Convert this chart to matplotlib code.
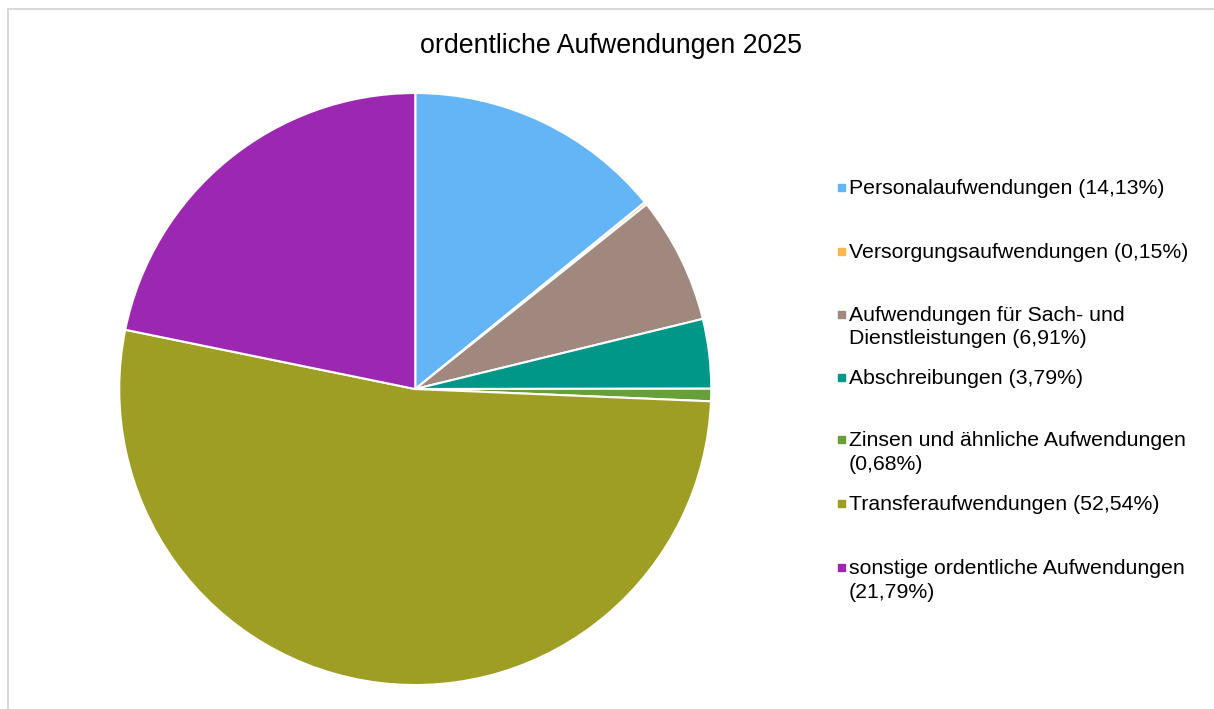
import matplotlib
matplotlib.use("Agg")
import matplotlib.pyplot as plt
from matplotlib.patches import Rectangle

plt.rcParams["font.family"] = ["Liberation Sans", "DejaVu Sans"]

TITLE = "ordentliche Aufwendungen 2025"
NAMES = ["Personalaufwendungen", "Versorgungsaufwendungen",
         "Aufwendungen für Sach- und\nDienstleistungen", "Abschreibungen",
         "Zinsen und ähnliche Aufwendungen", "Transferaufwendungen",
         "sonstige ordentliche Aufwendungen"]
VALUES = [14.13, 0.15, 6.91, 3.79, 0.68, 52.54, 21.79]
COLORS = ["#64B5F6", "#FFB74D", "#A1887F", "#009688", "#689F38", "#9E9D24", "#9C27B0"]
PCT_ON_NEW_LINE = [False, False, False, False, True, False, True]

fig = plt.figure(figsize=(12.14, 7.09), dpi=100)

# light grey frame (chart area border, cut off at right/bottom)
fig.patches.append(Rectangle((8 / 1214, -0.05), 1.2, 1 - 9 / 709 + 0.05,
                             transform=fig.transFigure, fill=False,
                             edgecolor="#d9d9d9", lw=1.5))

ax = fig.add_axes([0.0982, 0.0338, 0.4877, 0.835])
ax.pie(VALUES, colors=COLORS, startangle=90, counterclock=False,
       wedgeprops=dict(edgecolor="white", linewidth=1.5))
ax.set_xlim(-1, 1)
ax.set_ylim(-1, 1)
ax.set_aspect("equal")

fig.text(611 / 1214, 1 - 46 / 709, TITLE, ha="center", va="center", fontsize=19.3)

# legend entries (y = centre of first line, in pixels from top)
ys = [187, 251, 314, 377, 439, 503, 567]
for name, v, c, nl, y in zip(NAMES, VALUES, COLORS, PCT_ON_NEW_LINE, ys):
    pct = f"({v:.2f}%)".replace(".", ",")
    label = name + ("\n" if nl else " ") + pct
    fig.patches.append(Rectangle((838 / 1214, 1 - (y + 4) / 709), 7 / 1214, 7 / 709,
                                 transform=fig.transFigure, color=c))
    fig.text(849 / 1214, 1 - (y - 8) / 709, label, ha="left", va="top",
             fontsize=15.3, linespacing=1.3)

fig.savefig("out.png", dpi=100)
